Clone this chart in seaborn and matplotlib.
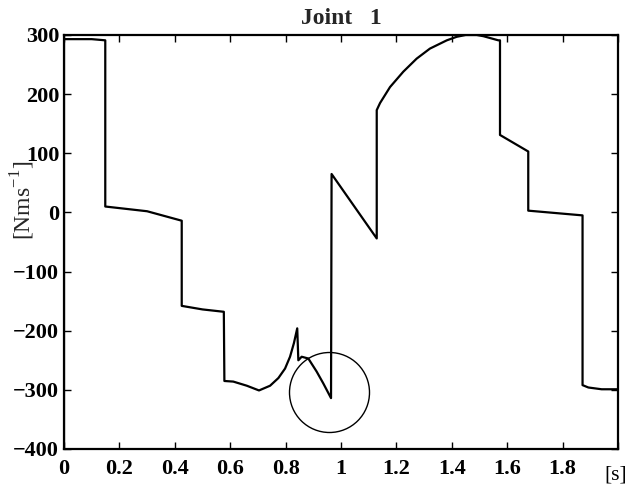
import numpy as np
import pandas as pd
import matplotlib
matplotlib.use("Agg")
import matplotlib.pyplot as plt
import matplotlib.transforms as mtransforms
import seaborn as sns

# Joint 1 torque-rate profile over time
time_s = [0.0, 0.0, 0.10, 0.149, 0.149, 0.30, 0.425, 0.425, 0.50, 0.577,
          0.579, 0.611, 0.66, 0.704, 0.744, 0.774, 0.798, 0.816, 0.830, 0.842,
          0.846, 0.858, 0.882, 0.912, 0.936, 0.964, 0.966, 1.129, 1.129,
          1.141, 1.177, 1.225, 1.273, 1.321, 1.382, 1.418, 1.45, 1.49, 1.514,
          1.568, 1.574, 1.574, 1.676, 1.676, 1.872, 1.872, 1.893, 1.941, 2.0]
rate = [-400, 293, 293, 291, 10, 2, -14, -158, -164, -168,
        -285, -286, -293, -301, -293, -280, -264, -244, -221, -196,
        -250, -244, -247, -269, -289, -314, 65, -44, 173,
        185, 212, 238, 260, 277, 291, 297, 300, 300, 298,
        291, 291, 131, 103, 3, -5, -292, -296, -299, -299]

# highlighted point
circle_t = [0.957]
circle_v = [-303]

x_ticks = [0, 0.2, 0.4, 0.6, 0.8, 1.0, 1.2, 1.4, 1.6, 1.8, 2.0]
x_tick_labels = ["0", "0.2", "0.4", "0.6", "0.8", "1", "1.2", "1.4", "1.6", "1.8", "[s]"]
y_ticks = [-400, -300, -200, -100, 0, 100, 200, 300]

sns.set_theme(style="ticks")
plt.rcParams["font.family"] = ["Liberation Serif", "DejaVu Serif"]

df = pd.DataFrame({"t": time_s, "v": rate})

fig = plt.figure(figsize=(6.29, 4.91), dpi=100)
ax = fig.add_axes([64 / 629, 1 - 449 / 491, (618 - 64) / 629, (449 - 35) / 491])

sns.lineplot(data=df, x="t", y="v", estimator=None, sort=False,
             color="black", linewidth=1.6, ax=ax)
ax.plot(circle_t, circle_v, marker="o", markersize=57.6, markerfacecolor="none",
        markeredgecolor="black", markeredgewidth=1.0, linestyle="none")

ax.set_xlim(0, 2.0)
ax.set_ylim(-400, 300)
ax.set_xticks(x_ticks)
ax.set_xticklabels(x_tick_labels)
ax.set_yticks(y_ticks)
ax.tick_params(direction="in", length=5, width=1.0, top=True, right=True,
               labelsize=16, colors="black")
ax.tick_params(axis="y", pad=3.5)
ax.tick_params(axis="x", pad=7)
for lab in ax.get_xticklabels() + ax.get_yticklabels():
    lab.set_fontweight("bold")

# unit label in place of the last x tick
unit_lab = ax.get_xticklabels()[-1]
unit_lab.set_fontweight("normal")
unit_lab.set_fontsize(15.5)
unit_lab.set_transform(unit_lab.get_transform() +
                       mtransforms.ScaledTranslation(-1.5 / 72, -5 / 72, fig.dpi_scale_trans))

for sp in ax.spines.values():
    sp.set_linewidth(1.6)
    sp.set_color("black")

ax.set_xlabel("")
ax.set_ylabel("[Nms$^{\\mathregular{-1}}$]", fontsize=17)
ax.yaxis.set_label_coords(-0.048, 0.60)
ax.set_title("Joint   1", fontsize=17, fontweight="bold", pad=8)

fig.savefig("out.png", dpi=100, facecolor="white")
